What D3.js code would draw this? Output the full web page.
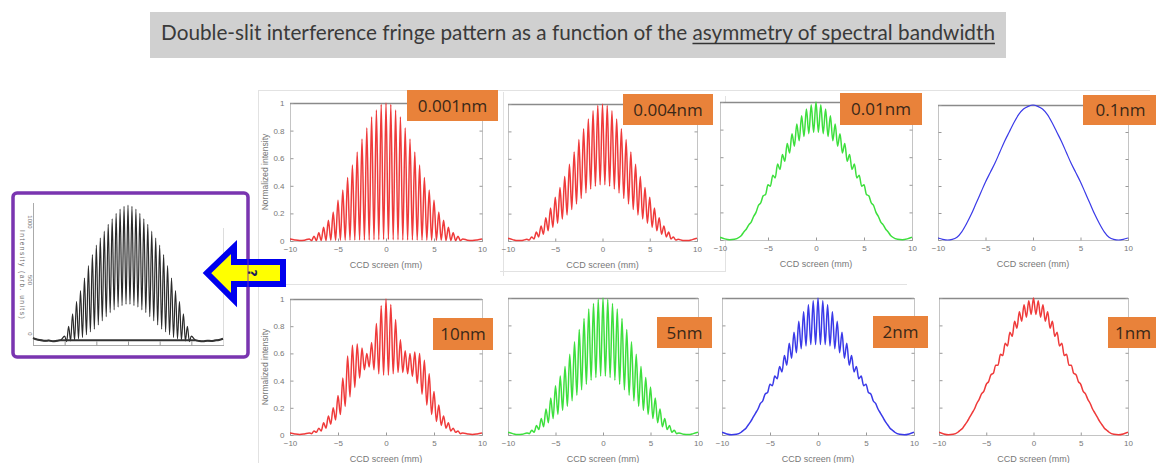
<!DOCTYPE html>
<html>
<head>
<meta charset="utf-8">
<style>
  body { margin: 0; background: #fff; }
  svg { display: block; }
  .tick line { stroke: #999; }
  .tick text { fill: #777; font-family: "Liberation Sans", Arial, sans-serif; font-size: 8px; }
</style>
</head>
<body>
<svg id="chart" width="1156" height="463"></svg>
<script src="https://d3js.org/d3.v7.min.js"></script>
<script>
// ---- data ----
var titleStart = "Double-slit interference fringe pattern as a function of the ";
var titleUnder = "asymmetry of spectral bandwidth";

var bandwidths = ["0.001nm", "0.004nm", "0.01nm", "0.1nm", "10nm", "5nm", "2nm", "1nm"];
var xTicks = [-10, -5, 0, 5, 10];
var yTicks = [0, 0.2, 0.4, 0.6, 0.8, 1];
var leftTicks = [-8, -4, 0, 4, 8];

// fringe maxima / minima positions on the CCD screen (mm)
var peakX = [-8, -7.5, -7, -6.5, -6, -5.5, -5, -4.5, -4, -3.5, -3, -2.5, -2, -1.5, -1, -0.5, 0,
             0.5, 1, 1.5, 2, 2.5, 3, 3.5, 4, 4.5, 5, 5.5, 6, 6.5, 7, 7.5, 8];
var troughX = [-7.75, -7.25, -6.75, -6.25, -5.75, -5.25, -4.75, -4.25, -3.75, -3.25, -2.75, -2.25, -1.75, -1.25, -0.75, -0.25,
               0.25, 0.75, 1.25, 1.75, 2.25, 2.75, 3.25, 3.75, 4.25, 4.75, 5.25, 5.75, 6.25, 6.75, 7.25, 7.75];
var tailX = [-10, -9.5, -9, -8.5, 8.5, 9, 9.5, 10];
var wideTailX = [-12, -11.5, -11, -10.5, -10, -9.5, -9, -8.5, 8.5, 9, 9.5, 10, 10.5, 11, 11.5, 12];

// 0.001 nm
var peaks001 = [0.015, 0.035, 0.06, 0.10, 0.15, 0.21, 0.295, 0.37, 0.46, 0.55, 0.645, 0.74, 0.82, 0.90, 0.95, 0.99, 1.00,
                0.99, 0.95, 0.90, 0.82, 0.74, 0.645, 0.55, 0.46, 0.37, 0.295, 0.21, 0.15, 0.10, 0.06, 0.035, 0.015];
var troughs001 = [0.003, 0.003, 0.004, 0.004, 0.005, 0.005, 0.006, 0.006, 0.007, 0.007, 0.008, 0.008, 0.008, 0.009, 0.009, 0.01,
                  0.01, 0.009, 0.009, 0.008, 0.008, 0.008, 0.007, 0.007, 0.006, 0.006, 0.005, 0.005, 0.004, 0.004, 0.003, 0.003];
var tails001 = [0.015, 0.008, 0.004, 0.006, 0.006, 0.004, 0.008, 0.015];

// 0.004 nm
var peaks004 = [0.012, 0.03, 0.065, 0.11, 0.17, 0.24, 0.32, 0.39, 0.47, 0.56, 0.65, 0.74, 0.82, 0.89, 0.95, 0.99, 1.00,
                0.99, 0.95, 0.89, 0.82, 0.74, 0.65, 0.56, 0.47, 0.39, 0.32, 0.24, 0.17, 0.11, 0.065, 0.03, 0.012];
var troughs004 = [0.007, 0.015, 0.03, 0.05, 0.075, 0.10, 0.13, 0.16, 0.19, 0.23, 0.27, 0.31, 0.35, 0.38, 0.40, 0.41,
                  0.41, 0.40, 0.38, 0.35, 0.31, 0.27, 0.23, 0.19, 0.16, 0.13, 0.10, 0.075, 0.05, 0.03, 0.015, 0.007];
var tails004 = [0.02, 0.01, 0.003, 0.004, 0.004, 0.003, 0.01, 0.02];

// 0.01 nm
var peaks01 = [0.02, 0.06, 0.11, 0.17, 0.25, 0.32, 0.40, 0.47, 0.55, 0.62, 0.70, 0.77, 0.84, 0.90, 0.95, 0.98, 1.00,
               0.98, 0.95, 0.90, 0.84, 0.77, 0.70, 0.62, 0.55, 0.47, 0.40, 0.32, 0.25, 0.17, 0.11, 0.06, 0.02];
var troughs01 = [0.035, 0.08, 0.13, 0.20, 0.27, 0.33, 0.39, 0.45, 0.51, 0.57, 0.63, 0.68, 0.72, 0.75, 0.77, 0.78,
                 0.78, 0.77, 0.75, 0.72, 0.68, 0.63, 0.57, 0.51, 0.45, 0.39, 0.33, 0.27, 0.20, 0.13, 0.08, 0.035];
var tails01 = [0.02, 0.008, 0.002, 0.005, 0.005, 0.002, 0.008, 0.02];

// 0.1 nm (no visible fringes)
var peaks1 = [0.02, 0.06, 0.12, 0.19, 0.27, 0.35, 0.43, 0.50, 0.57, 0.65, 0.73, 0.80, 0.87, 0.93, 0.97, 0.99, 1.00,
              0.99, 0.97, 0.93, 0.87, 0.80, 0.73, 0.65, 0.57, 0.50, 0.43, 0.35, 0.27, 0.19, 0.12, 0.06, 0.02];
var tails1 = [0.015, 0.005, 0.0, 0.004, 0.004, 0.0, 0.005, 0.015];

// 10 nm
var peaks10 = [0.015, 0.03, 0.05, 0.09, 0.14, 0.20, 0.29, 0.42, 0.58, 0.66, 0.67, 0.64, 0.60, 0.68, 0.82, 0.95, 1.00,
               0.96, 0.85, 0.70, 0.62, 0.60, 0.61, 0.60, 0.55, 0.45, 0.32, 0.22, 0.14, 0.09, 0.05, 0.03, 0.015];
var troughs10 = [0.01, 0.02, 0.03, 0.05, 0.08, 0.11, 0.15, 0.21, 0.28, 0.35, 0.42, 0.48, 0.50, 0.48, 0.45, 0.44,
                 0.44, 0.45, 0.46, 0.46, 0.45, 0.43, 0.38, 0.30, 0.22, 0.15, 0.10, 0.07, 0.05, 0.03, 0.02, 0.01];
var tails10 = [0.015, 0.008, 0.004, 0.008, 0.008, 0.004, 0.008, 0.015];

// 5 nm
var peaks5 = [0.015, 0.035, 0.07, 0.12, 0.19, 0.27, 0.36, 0.43, 0.50, 0.59, 0.68, 0.77, 0.85, 0.92, 0.96, 0.99, 1.00,
              0.99, 0.96, 0.92, 0.85, 0.77, 0.68, 0.59, 0.50, 0.42, 0.35, 0.27, 0.19, 0.12, 0.07, 0.035, 0.015];
var troughs5 = [0.01, 0.02, 0.04, 0.06, 0.09, 0.12, 0.15, 0.18, 0.21, 0.25, 0.29, 0.33, 0.37, 0.40, 0.42, 0.43,
                0.43, 0.42, 0.40, 0.37, 0.33, 0.29, 0.25, 0.21, 0.18, 0.15, 0.12, 0.09, 0.06, 0.04, 0.02, 0.01];
var tails5 = [0.02, 0.01, 0.003, 0.005, 0.005, 0.003, 0.01, 0.02];

// 2 nm
var peaks2 = [0.02, 0.05, 0.10, 0.16, 0.23, 0.30, 0.37, 0.43, 0.50, 0.58, 0.67, 0.75, 0.83, 0.90, 0.95, 0.98, 1.00,
              0.98, 0.95, 0.90, 0.83, 0.75, 0.67, 0.58, 0.50, 0.43, 0.37, 0.30, 0.23, 0.16, 0.10, 0.05, 0.02];
var troughs2 = [0.035, 0.075, 0.13, 0.19, 0.25, 0.31, 0.36, 0.41, 0.46, 0.51, 0.56, 0.60, 0.63, 0.65, 0.66, 0.66,
                0.66, 0.66, 0.65, 0.63, 0.60, 0.56, 0.51, 0.46, 0.41, 0.36, 0.31, 0.25, 0.19, 0.13, 0.075, 0.035];
var tails2 = [0.02, 0.008, 0.002, 0.005, 0.005, 0.002, 0.008, 0.02];

// 1 nm
var peaks1nm = [0.02, 0.05, 0.10, 0.16, 0.23, 0.30, 0.37, 0.44, 0.51, 0.59, 0.67, 0.75, 0.83, 0.90, 0.95, 0.98, 1.00,
                0.98, 0.95, 0.90, 0.83, 0.75, 0.67, 0.59, 0.51, 0.44, 0.37, 0.30, 0.23, 0.16, 0.10, 0.05, 0.02];
var troughs1nm = [0.035, 0.075, 0.13, 0.19, 0.26, 0.32, 0.39, 0.45, 0.51, 0.58, 0.65, 0.72, 0.78, 0.83, 0.86, 0.88,
                  0.88, 0.86, 0.83, 0.78, 0.72, 0.65, 0.58, 0.51, 0.45, 0.39, 0.32, 0.26, 0.19, 0.13, 0.075, 0.035];
var tails1nm = [0.02, 0.008, 0.002, 0.005, 0.005, 0.002, 0.008, 0.02];

// measured pattern (left, black)
var peaksMeas = [0.05, 0.12, 0.21, 0.30, 0.38, 0.47, 0.56, 0.64, 0.71, 0.76, 0.81, 0.86, 0.90, 0.94, 0.97, 0.99, 1.00,
                 0.99, 0.97, 0.94, 0.90, 0.86, 0.81, 0.76, 0.71, 0.64, 0.56, 0.47, 0.38, 0.30, 0.21, 0.12, 0.05];
var troughsMeas = [0.01, 0.015, 0.02, 0.03, 0.04, 0.06, 0.08, 0.10, 0.13, 0.16, 0.19, 0.22, 0.24, 0.26, 0.27, 0.28,
                   0.28, 0.27, 0.26, 0.24, 0.22, 0.19, 0.16, 0.13, 0.10, 0.08, 0.06, 0.04, 0.03, 0.02, 0.015, 0.01];
var tailsMeas = [0.035, 0.025, 0.02, 0.015, 0.018, 0.012, 0.015, 0.02, 0.02, 0.014, 0.012, 0.016, 0.014, 0.018, 0.022, 0.03];

// ---- layout ----
var svg = d3.select("#chart");
var RED = "#ef3a3a", GREEN = "#3ddf3d", BLUE = "#3a3ae8";

var panels = [
  { label: bandwidths[0], color: RED,   p: peaks001, t: troughs001, tl: tails001, box: [290, 103, 482, 241], tag: [407, 90, 91, 31], yLab: true },
  { label: bandwidths[1], color: RED,   p: peaks004, t: troughs004, tl: tails004, box: [508, 104, 697, 241], tag: [623, 94, 90, 31] },
  { label: bandwidths[2], color: GREEN, p: peaks01,  t: troughs01,  tl: tails01,  box: [720, 102, 912, 240], tag: [840, 93, 82, 32] },
  { label: bandwidths[3], color: BLUE,  p: peaks1,   t: null,       tl: tails1,   box: [938, 105, 1128, 240], tag: [1083, 95, 75, 30] },
  { label: bandwidths[4], color: RED,   p: peaks10,  t: troughs10,  tl: tails10,  box: [290, 299, 482, 435], tag: [433, 318, 60, 32], yLab: true },
  { label: bandwidths[5], color: GREEN, p: peaks5,   t: troughs5,   tl: tails5,   box: [508, 298, 698, 435], tag: [657, 317, 55, 31] },
  { label: bandwidths[6], color: BLUE,  p: peaks2,   t: troughs2,   tl: tails2,   box: [722, 298, 914, 435], tag: [873, 316, 55, 32] },
  { label: bandwidths[7], color: RED,   p: peaks1nm, t: troughs1nm, tl: tails1nm, box: [939, 298, 1128, 435], tag: [1108, 317, 50, 31] }
];

function buildSeries(p, t, tl, tx) {
  var pts = [];
  peakX.forEach(function(x, i) { pts.push({ x: x, y: p[i] }); });
  if (t) troughX.forEach(function(x, i) { pts.push({ x: x, y: t[i] }); });
  tx.forEach(function(x, i) { pts.push({ x: x, y: tl[i] }); });
  return pts.sort(function(a, b) { return a.x - b.x; });
}

// slide image borders (faint)
var frame = svg.append("g").attr("stroke", "#e2e2e2").attr("fill", "none");
frame.append("line").attr("x1", 258.5).attr("x2", 258.5).attr("y1", 90).attr("y2", 463);
frame.append("line").attr("x1", 258).attr("x2", 1150).attr("y1", 90.5).attr("y2", 90.5);
frame.append("line").attr("x1", 258).attr("x2", 907).attr("y1", 284.5).attr("y2", 284.5);
frame.append("line").attr("x1", 503.5).attr("x2", 503.5).attr("y1", 92).attr("y2", 276);
frame.append("line").attr("x1", 725.5).attr("x2", 725.5).attr("y1", 96).attr("y2", 272);
frame.append("line").attr("x1", 500).attr("x2", 725).attr("y1", 271.5).attr("y2", 271.5);

// title
svg.append("rect").attr("x", 150).attr("y", 12).attr("width", 856).attr("height", 46).attr("fill", "#d0d0d0");
var title = svg.append("text").attr("x", 578).attr("y", 40).attr("text-anchor", "middle")
  .style("font-family", "Lato, 'Open Sans', sans-serif").style("font-size", "18px").attr("fill", "#3a3a3a");
title.append("tspan").text(titleStart);
var under = title.append("tspan").text(titleUnder);
var full = title.node().getComputedTextLength();
title.style("font-size", (18 * 834 / full) + "px");
full = title.node().getComputedTextLength();
var ulW = under.node().getComputedTextLength();
svg.append("line").attr("x1", 578 + full / 2 - ulW).attr("x2", 578 + full / 2)
  .attr("y1", 43.5).attr("y2", 43.5).attr("stroke", "#333").attr("stroke-width", 1.3);

// the eight simulated panels
var line = d3.line().x(function(d) { return d.sx; }).y(function(d) { return d.sy; }).curve(d3.curveMonotoneX);

panels.forEach(function(pn, k) {
  var b = pn.box;
  var x = d3.scaleLinear().domain([-10, 10]).range([b[0], b[2]]);
  var y = d3.scaleLinear().domain([0, 1]).range([b[3], b[1]]);
  var g = svg.append("g");

  g.append("clipPath").attr("id", "clip" + k).append("rect")
    .attr("x", b[0]).attr("y", b[1] - 2).attr("width", b[2] - b[0]).attr("height", b[3] - b[1] + 4);

  g.append("rect").attr("x", b[0] + 0.5).attr("y", b[1] + 0.5).attr("width", b[2] - b[0]).attr("height", b[3] - b[1])
    .attr("fill", "#fff").attr("stroke", "#c4c4c4");
  g.append("line").attr("x1", b[0]).attr("x2", b[2]).attr("y1", b[1] + 0.5).attr("y2", b[1] + 0.5)
    .attr("stroke", "#8a8a8a").attr("stroke-width", 1.6);

  var xa = g.append("g").attr("transform", "translate(0," + (b[3] + 0.5) + ")")
    .call(d3.axisBottom(x).tickValues(xTicks).tickSizeInner(-3).tickSizeOuter(0).tickPadding(5));
  xa.select(".domain").remove();
  var ya = g.append("g").attr("transform", "translate(" + (b[0] + 0.5) + ",0)")
    .call(d3.axisLeft(y).tickValues(yTicks).tickSizeInner(-3).tickSizeOuter(0).tickPadding(6)
      .tickFormat(pn.yLab ? d3.format("") : function() { return ""; }));
  ya.select(".domain").remove();
  var yr = g.append("g").attr("transform", "translate(" + (b[2] + 0.5) + ",0)")
    .call(d3.axisRight(y).tickValues(yTicks).tickSizeInner(-3).tickSizeOuter(0).tickFormat(""));
  yr.select(".domain").remove();

  g.append("text").attr("x", (b[0] + b[2]) / 2).attr("y", b[3] + 27).attr("text-anchor", "middle")
    .style("font-family", "'Liberation Sans', Arial, sans-serif").style("font-size", "9px").attr("fill", "#777")
    .text("CCD screen (mm)");
  if (pn.yLab) {
    g.append("text").attr("transform", "translate(" + (b[0] - 22) + "," + ((b[1] + b[3]) / 2) + ") rotate(-90)")
      .attr("text-anchor", "middle")
      .style("font-family", "'Liberation Sans', Arial, sans-serif").style("font-size", "8.5px").attr("fill", "#777")
      .text("Normalized intensity");
  }

  var pts = buildSeries(pn.p, pn.t, pn.tl, tailX).map(function(d) { return { sx: x(d.x), sy: y(d.y) }; });
  g.append("path").attr("d", line(pts)).attr("clip-path", "url(#clip" + k + ")")
    .attr("fill", "none").attr("stroke", pn.color).attr("stroke-width", pn.t ? 1.5 : 1.2)
    .attr("stroke-linejoin", "round");

  var tg = pn.tag;
  svg.append("rect").attr("x", tg[0]).attr("y", tg[1]).attr("width", tg[2]).attr("height", tg[3]).attr("fill", "#e9823a");
  svg.append("text").attr("x", tg[0] + tg[2] / 2).attr("y", tg[1] + tg[3] / 2 + 6).attr("text-anchor", "middle")
    .style("font-family", "'Open Sans', sans-serif").style("font-size", "17px").attr("fill", "#3a2818")
    .text(pn.label);
});

// left: measured pattern in purple frame
svg.append("rect").attr("x", 13).attr("y", 193).attr("width", 235).attr("height", 164).attr("rx", 4)
  .attr("fill", "#fff").attr("stroke", "#7a35b0").attr("stroke-width", 3.5);

var lx = d3.scaleLinear().domain([-12, 12]).range([33, 223]);
var ly = d3.scaleLinear().domain([-0.015, 1]).range([345, 205]);
var lg = svg.append("g");
lg.append("line").attr("x1", 33.5).attr("x2", 33.5).attr("y1", 203).attr("y2", 345).attr("stroke", "#aaa");
lg.append("line").attr("x1", 223.5).attr("x2", 223.5).attr("y1", 228).attr("y2", 345).attr("stroke", "#ddd");
lg.append("line").attr("x1", 33).attr("x2", 224).attr("y1", 345.5).attr("y2", 345.5).attr("stroke", "#aaa");
var la = lg.append("g").attr("transform", "translate(0,345.5)")
  .call(d3.axisBottom(lx).tickValues(leftTicks).tickSizeInner(-4).tickSizeOuter(0).tickFormat(""));
la.select(".domain").remove();
["1000", "500", "0"].forEach(function(s, i) {
  lg.append("text").attr("transform", "translate(28," + [222, 280, 334][i] + ") rotate(90)")
    .attr("text-anchor", "middle").style("font-family", "'Liberation Sans', Arial, sans-serif")
    .style("font-size", "6px").attr("fill", "#777").text(s);
});
lg.append("text").attr("transform", "translate(20,275) rotate(90)").attr("text-anchor", "middle")
  .style("font-family", "'Liberation Sans', Arial, sans-serif").style("font-size", "6.5px")
  .attr("letter-spacing", "1.5").attr("fill", "#666").text("Intensity (arb. units)");

var mpts = buildSeries(peaksMeas, troughsMeas, tailsMeas, wideTailX).map(function(d) { return { sx: lx(d.x), sy: ly(d.y) }; });
lg.append("path").attr("d", line(mpts)).attr("fill", "none").attr("stroke", "#2a2a2a").attr("stroke-width", 1.2);
lg.append("path").attr("d", line(mpts.filter(function(d) { return Math.abs(lx.invert(d.sx)) > 8.2; })))
  .attr("fill", "none").attr("stroke", "#333").attr("stroke-width", 2);

// arrow
var arrow = [[207, 273], [234, 247], [234, 262], [283, 262], [283, 284], [234, 284], [234, 300]];
svg.append("polygon").attr("points", arrow.map(function(p) { return p.join(","); }).join(" "))
  .attr("fill", "#ffff00").attr("stroke", "#0000ee").attr("stroke-width", 6).attr("stroke-linejoin", "miter");
svg.append("line").attr("x1", 248).attr("x2", 248).attr("y1", 240).attr("y2", 306)
  .attr("stroke", "#7a35b0").attr("stroke-width", 1.5).attr("opacity", 0.6);
svg.append("text").attr("transform", "translate(253,273) rotate(90)").attr("text-anchor", "middle")
  .attr("dy", "0.35em").style("font-family", "'DejaVu Sans', sans-serif").style("font-size", "13px")
  .style("font-weight", "bold").attr("fill", "#1c1c5a").text("?");
</script>
</body>
</html>
